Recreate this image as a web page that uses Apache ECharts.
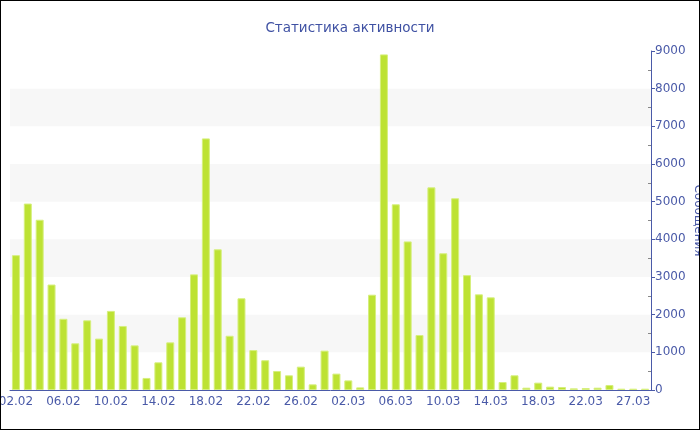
<!DOCTYPE html>
<html>
<head>
<meta charset="utf-8">
<script src="https://cdn.jsdelivr.net/npm/echarts@6/dist/echarts.min.js"></script>
<style>
html,body{margin:0;padding:0;background:#fff;}
#wrap{position:relative;width:700px;height:430px;}
#chart{width:700px;height:430px;}
#frame{position:absolute;left:0;top:0;width:698px;height:428px;border:1px solid #000;pointer-events:none;}
</style>
</head>
<body>
<div id="wrap"><div id="chart"></div><div id="frame"></div></div>
<script>
const titleText = 'Статистика активности';
const axisName = 'Сообщения';
const categories = [
  '02.02','03.02','04.02','05.02','06.02','07.02','08.02','09.02','10.02','11.02',
  '12.02','13.02','14.02','15.02','16.02','17.02','18.02','19.02','20.02','21.02',
  '22.02','23.02','24.02','25.02','26.02','27.02','28.02',
  '01.03','02.03','03.03','04.03','05.03','06.03','07.03','08.03','09.03','10.03',
  '11.03','12.03','13.03','14.03','15.03','16.03','17.03','18.03','19.03','20.03',
  '21.03','22.03','24.03','25.03','26.03','27.03','28.03'
];
const messages = [
  3580, 4950, 4520, 2800, 1890, 1240, 1850, 1365, 2100, 1700,
  1185, 320, 735, 1265, 1930, 3070, 6680, 3735, 1440, 2435,
  1060, 790, 505, 390, 620, 150, 1045,
  435, 255, 70, 2530, 8910, 4930, 3945, 1460, 5380, 3630,
  5090, 3050, 2540, 2460, 212, 390, 62, 195, 90, 80,
  44, 53, 62, 133, 35, 35, 35
];
const yTicks = { min: 0, max: 9000, interval: 1000 };

const chart = echarts.init(document.getElementById('chart'), null, {renderer: 'canvas'});
const blue = '#4a5aa8';
chart.setOption({
  animation: false,
  title: {
    text: titleText, left: 'center', top: 16,
    textStyle: { color: '#3f51a3', fontSize: 13.5, fontWeight: 'normal', fontFamily: 'DejaVu Sans' }
  },
  grid: { left: 10, right: 49, top: 51, bottom: 40, containLabel: false, outerBoundsMode: 'none' },
  xAxis: {
    type: 'category', data: categories,
    axisLine: { lineStyle: { color: blue, width: 1 } },
    axisTick: { alignWithLabel: true, interval: 3, length: 4, lineStyle: { color: blue } },
    axisLabel: { interval: 3, color: blue, fontSize: 12, fontFamily: 'DejaVu Sans', margin: 6 }
  },
  yAxis: {
    type: 'value', position: 'right', min: yTicks.min, max: yTicks.max, interval: yTicks.interval,
    name: axisName, nameLocation: 'middle', nameRotate: -90, nameGap: 41,
    nameMoveOverlap: false,
    nameTextStyle: { color: blue, fontSize: 12, fontFamily: 'DejaVu Sans' },
    axisLine: { show: true, lineStyle: { color: blue } },
    axisTick: { show: true, length: 4, lineStyle: { color: blue } },
    minorTick: { show: true, splitNumber: 2, length: -3, lineStyle: { color: '#888' } },
    axisLabel: { color: blue, fontSize: 12, fontFamily: 'DejaVu Sans', margin: 4,
      formatter: function (v) { return String(v); } },
    splitLine: { show: false },
    splitArea: { show: true, areaStyle: { color: ['rgba(255,255,255,0)', '#f7f7f7'] } }
  },
  series: [{
    type: 'bar', data: messages, barWidth: 8,
    itemStyle: { color: '#bde233', borderColor: '#d6ef7e', borderWidth: 1 }
  }]
});
</script>
</body>
</html>
